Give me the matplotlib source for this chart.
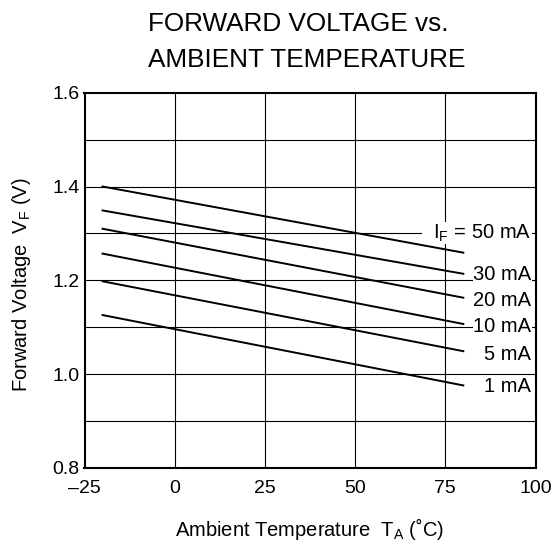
import matplotlib
matplotlib.use('Agg')
import matplotlib.pyplot as plt

plt.rcParams['font.family'] = ['Liberation Sans', 'DejaVu Sans']
plt.rcParams['mathtext.fontset'] = 'custom'
plt.rcParams['mathtext.rm'] = 'Liberation Sans'
plt.rcParams['mathtext.it'] = 'Liberation Sans'

# ---- data ----
temps = [-20, 80]
currents = ['50 mA', '30 mA', '20 mA', '10 mA', '5 mA', '1 mA']
vf_start = [1.400, 1.349, 1.310, 1.257, 1.198, 1.126]
vf_end = [1.259, 1.214, 1.163, 1.107, 1.049, 0.976]
label_y = [1.300, 1.213, 1.157, 1.102, 1.042, 0.973]

x_ticks = [-25, 0, 25, 50, 75, 100]
x_ticklabels = ['–25', '0', '25', '50', '75', '100']
y_ticks = [0.8, 1.0, 1.2, 1.4, 1.6]
y_ticklabels = ['0.8', '1.0', '1.2', '1.4', '1.6']
y_grid = [0.9, 1.1, 1.3, 1.5]

W, H = 554, 544
fig = plt.figure(figsize=(W / 100, H / 100), dpi=100)
ax = fig.add_axes([84.5 / W, 76 / H, 451 / W, 375.3 / H])

ax.set_xlim(-25, 100)
ax.set_ylim(0.8, 1.6)

# grid
for x in x_ticks[1:-1]:
    ax.axvline(x, color='black', lw=0.8, zorder=1)
for y in y_ticks[1:-1] + y_grid:
    ax.axhline(y, color='black', lw=0.8, zorder=1)

# curves
for v0, v1 in zip(vf_start, vf_end):
    ax.plot(temps, [v0, v1], color='black', lw=1.4, zorder=3)

# labels at the right end
for i, (name, ly) in enumerate(zip(currents, label_y)):
    if i == 0:
        txt = r'  I$_{\mathrm{F}}$ = ' + name
    else:
        txt = name
    ax.text(98.8, ly, txt, ha='right', va='center', fontsize=14.5,
            bbox=dict(facecolor='white', edgecolor='none', pad=0.3), zorder=4)

ax.set_xticks(x_ticks)
ax.set_xticklabels(x_ticklabels)
ax.set_yticks(y_ticks)
ax.set_yticklabels(y_ticklabels)
ax.tick_params(length=0, labelsize=14)
ax.tick_params(axis='x', pad=8.5)
ax.tick_params(axis='y', pad=3.5)
for s in ax.spines.values():
    s.set_linewidth(1.5)
    s.set_zorder(5)

# axis titles and chart title
fig.text(309.5 / W, 1 - 536 / H, r'Ambient Temperature  T$_{\mathrm{A}}$ (˚C)',
         ha='center', va='baseline', fontsize=14.5)
fig.text(21.7 / W, 1 - 285 / H, r'Forward Voltage  V$_{\mathrm{F}}$ (V)',
         ha='center', va='center', rotation=90, fontsize=14.5)
fig.text(148 / W, 1 - 30.7 / H, 'FORWARD VOLTAGE vs.',
         ha='left', va='baseline', fontsize=18.8)
fig.text(148 / W, 1 - 66.7 / H, 'AMBIENT TEMPERATURE',
         ha='left', va='baseline', fontsize=18.8)

fig.savefig('out.png', dpi=100)
